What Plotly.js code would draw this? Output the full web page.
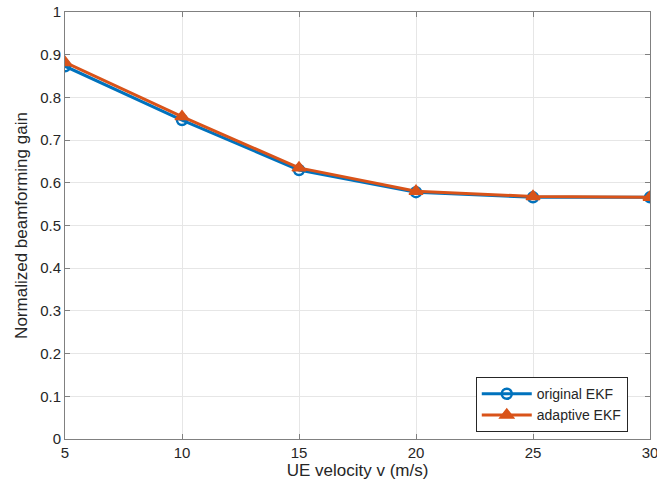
<!DOCTYPE html>
<html><head><meta charset="utf-8">
<script src="https://cdn.plot.ly/plotly-3.0.1.min.js"></script>
<style>html,body{margin:0;padding:0;background:#fff}#chart{width:657px;height:491px}</style>
</head><body><div id="chart"></div>
<script>
const velocity = [5, 10, 15, 20, 25, 30];
const originalEKF = [0.873, 0.747, 0.630, 0.578, 0.566, 0.566];
const adaptiveEKF = [0.882, 0.755, 0.635, 0.580, 0.568, 0.566];
const xTicks = [5, 10, 15, 20, 25, 30];
const yTicks = [0, 0.1, 0.2, 0.3, 0.4, 0.5, 0.6, 0.7, 0.8, 0.9, 1];

const FONT = 'Liberation Sans, Arial, sans-serif';
const traces = [
  {x: velocity, y: originalEKF, name: 'original EKF', mode: 'lines+markers', type: 'scatter',
   line: {color: '#0072BD', width: 3},
   marker: {symbol: 'circle-open', size: 10, color: '#0072BD', line: {width: 2.5, color: '#0072BD'}}},
  {x: velocity, y: adaptiveEKF, name: 'adaptive EKF', mode: 'lines+markers', type: 'scatter',
   line: {color: '#D95319', width: 3},
   marker: {symbol: 'triangle-up', size: 12, color: '#D95319', line: {width: 1.5, color: '#D95319'}}}
];

const axisCommon = {
  showline: true, linecolor: '#808080', linewidth: 1, mirror: 'ticks',
  ticks: 'inside', ticklen: 5, tickcolor: '#808080', tickwidth: 1,
  showgrid: true, gridcolor: '#e6e6e6', gridwidth: 1, zeroline: false,
  ticklabeloverflow: 'allow',
  tickfont: {family: FONT, size: 15, color: '#262626'}
};

const layout = {
  width: 657, height: 491,
  margin: {l: 65, r: 7, t: 12, b: 52},
  paper_bgcolor: '#fff', plot_bgcolor: '#fff',
  showlegend: true,
  legend: {x: 0.962, y: 0.016, xanchor: 'right', yanchor: 'bottom',
    bordercolor: '#262626', borderwidth: 1, bgcolor: '#fff',
    font: {family: FONT, size: 14, color: '#262626'},
    tracegroupgap: 0, itemwidth: 50},
  xaxis: Object.assign({}, axisCommon, {range: [5, 30], tickvals: xTicks, ticktext: xTicks.map(String),
    title: {text: 'UE velocity v (m/s)', standoff: 4, font: {family: FONT, size: 17, color: '#262626'}}}),
  yaxis: Object.assign({}, axisCommon, {range: [0, 1], tickvals: yTicks, ticktext: yTicks.map(String),
    title: {text: 'Normalized beamforming gain', standoff: 8, font: {family: FONT, size: 17, color: '#262626'}}})
};

Plotly.newPlot('chart', traces, layout, {displayModeBar: false, staticPlot: true});
</script></body></html>
